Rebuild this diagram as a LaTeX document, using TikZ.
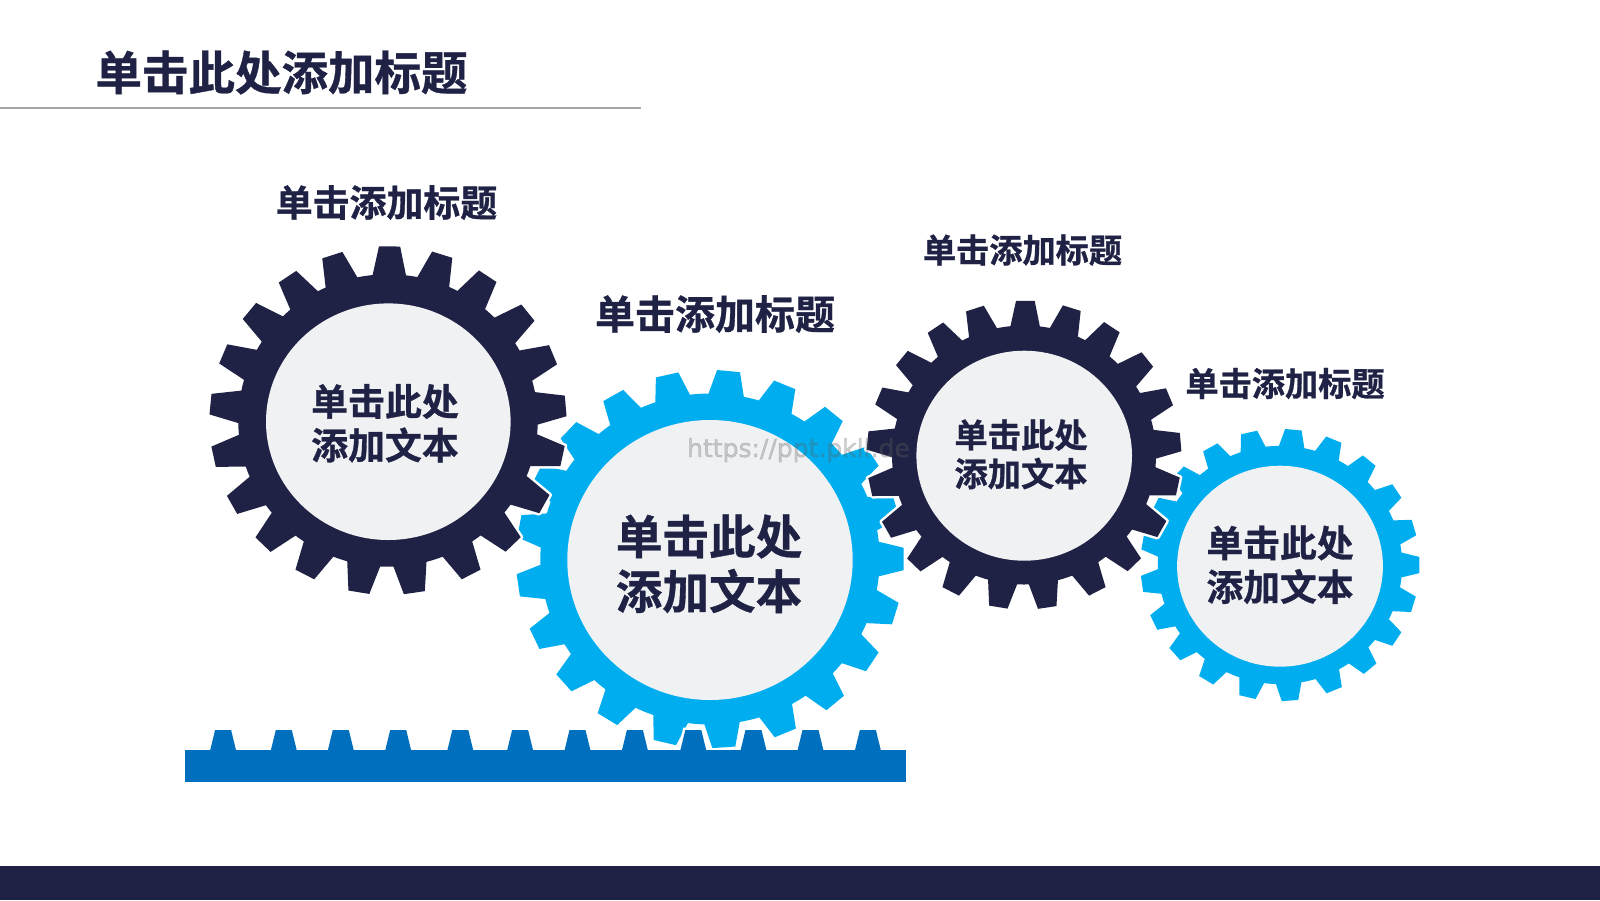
\documentclass[tikz,border=0pt]{standalone}
\usepackage{fontspec}
\newfontfamily\cjkbold{Noto Sans CJK SC Bold}[FakeBold=0.8]
\newfontfamily\urlfont{DejaVu Sans}[FakeBold=1.4]
\definecolor{navy}{HTML}{1F2244}
\definecolor{sky}{HTML}{00AEEF}
\definecolor{rackblue}{HTML}{006FBE}
\definecolor{hubgrey}{HTML}{F0F1F3}
\definecolor{rulegrey}{HTML}{A6A6A6}
\def\darkteeth{89.5,72.3,56,38.3,22.2,4.8,-11.8,-28.7,-45.4,-62.2,-81.5,-99.4,-117.8,-134.5,-151,-168,174.6,157.5,141,124.3,108.2}
\def\lightteeth{84.5,67.3,50.2,33,16,0,-16.8,-33,-49.7,-67.1,-85.9,-103.5,-122,-139,-155,-172,170,153.8,137,120,102.8}
% Ring and teeth of one gear: #1 colour, #2 tooth angles, #3 root radius, #4 tip radius,
% #5 half-angle at the root, #6 half-angle at the tip
\newcommand{\gearbody}[6]{%
  \fill[#1] (0,0) circle[radius=#3];
  \foreach \a in #2 {
    \fill[#1] (\a-#5:#3-3) -- (\a-#5:#3) -- (\a-#6:#4) -- (\a+#6:#4) -- (\a+#5:#3) -- (\a+#5:#3-3) -- cycle;
  }%
}
\newcommand{\gearhalo}[6]{%
  \draw[white,fill=white,line width=5pt] (0,0) circle[radius=#3];
  \foreach \a in #2 {
    \draw[white,fill=white,line width=5pt,line join=round] (\a-#5:#3) -- (\a-#6:#4) -- (\a+#6:#4) -- (\a+#5:#3) -- cycle;
  }%
}
\tikzset{
  title/.style={font=\cjkbold\fontsize{46.5}{46.5}\selectfont,text=navy,inner sep=0pt,anchor=center},
  gearlabel/.style={font=\cjkbold\fontsize{#1}{#1}\selectfont,text=navy,inner sep=0pt,anchor=center},
}
\begin{document}
\begin{tikzpicture}[x=1pt,y=-1pt]
\useasboundingbox (0,0) rectangle (1600,900);
\fill[white] (0,0) rectangle (1600,900);
% Light gears sit at the back
\begin{scope}[shift={(710,559)},xscale=1.01,yscale=-.985]
  \gearbody{sky}{\lightteeth}{168}{192}{6}{3.4}
\end{scope}
\begin{scope}[shift={(1280,565)},xscale=.727,yscale=-.709]
  \gearbody{sky}{\lightteeth}{168}{192}{6}{3.4}
\end{scope}
% Dark gears with a white rim
\begin{scope}[shift={(388,420.5)},xscale=1.012,yscale=-.988]
  \gearhalo{navy}{\darkteeth}{148}{176.5}{6.4}{3.4}
  \gearbody{navy}{\darkteeth}{148}{176.5}{6.4}{3.4}
\end{scope}
\begin{scope}[shift={(1024,455)},xscale=.892,yscale=-.875]
  \gearhalo{navy}{\darkteeth}{148}{176.5}{6.4}{3.4}
  \gearbody{navy}{\darkteeth}{148}{176.5}{6.4}{3.4}
\end{scope}
% Hubs
\fill[hubgrey] (388.3,421.7) ellipse[x radius=122.3,y radius=118.3];
\fill[hubgrey] (710,560) ellipse[x radius=142.7,y radius=140];
\fill[hubgrey] (1024.2,455.7) ellipse[x radius=107.8,y radius=105];
\fill[hubgrey] (1280,566.2) ellipse[x radius=102.9,y radius=100.5];
% Rack with its teeth
\foreach \c in {223.1,283.8,340.8,398.2,460.3,520.1,577.5,634.9,693.3,753.5,810.5,867.9} {
  \draw[white,fill=white,line width=5pt] (\c-13,750) -- (\c-8,730) -- (\c+8,730) -- (\c+13,750) -- cycle;
}
\draw[white,fill=white,line width=5pt] (184.8,750) rectangle (906,781.7);
\fill[rackblue] (184.8,750) rectangle (906,781.7);
\foreach \c in {223.1,283.8,340.8,398.2,460.3,520.1,577.5,634.9,693.3,753.5,810.5,867.9} {
  \fill[rackblue] (\c-13,750.5) -- (\c-8,730) -- (\c+8,730) -- (\c+13,750.5) -- cycle;
}
% Header and footer
\draw[rulegrey,line width=1.7pt] (0,108) coordinate (ruleL) -- (641,108) coordinate (ruleR);
\fill[navy] (0,866) rectangle (1600,900);
\node[title] (pagetitle) at (281.5,72.5) {单击此处添加标题};
% Captions above the gears
\node[gearlabel=36.9] (capA) at (386.5,202.5) {单击添加标题};
\node[gearlabel=40] (capB) at (715,314) {单击添加标题};
\node[gearlabel=33.2] (capC) at (1022.5,250) {单击添加标题};
\node[gearlabel=33.2] (capD) at (1285,383.5) {单击添加标题};
% Hub texts
\node[gearlabel=36.9] (hubA1) at (385,401.5) {单击此处};
\node[gearlabel=36.9] (hubA2) at (385,445) {添加文本};
\node[gearlabel=46.6] (hubB1) at (709,536.5) {单击此处};
\node[gearlabel=46.6] (hubB2) at (709,591) {添加文本};
\node[gearlabel=33.3] (hubC1) at (1021,435) {单击此处};
\node[gearlabel=33.3] (hubC2) at (1021,473.5) {添加文本};
\node[gearlabel=36.8] (hubD1) at (1280,543) {单击此处};
\node[gearlabel=36.8] (hubD2) at (1280,586.5) {添加文本};
% Faint site address across the second gear
\node[font=\urlfont\fontsize{25}{25}\selectfont,text=black!62,text opacity=.3,inner sep=0pt,anchor=base west] (siteurl) at (687,457) {https://ppt.pkll.de};
\end{tikzpicture}
\end{document}
